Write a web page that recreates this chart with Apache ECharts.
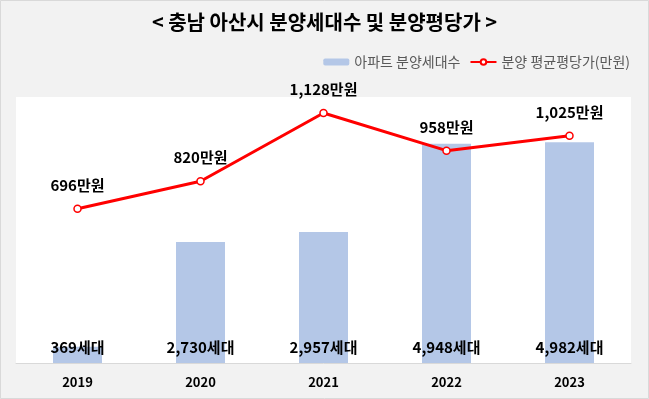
<!DOCTYPE html>
<html>
<head>
<meta charset="utf-8">
<script src="https://cdn.jsdelivr.net/npm/echarts@6/dist/echarts.min.js"></script>
<style>
  html, body { margin: 0; padding: 0; background: #F2F2F2; }
  #chart { width: 649px; height: 399px; }
</style>
</head>
<body>
<div id="chart"></div>
<script>
"use strict";

// 데이터
const years = ["2019", "2020", "2021", "2022", "2023"];
const households = [369, 2730, 2957, 4948, 4982];   // 아파트 분양세대수
const avgPrice = [696, 820, 1128, 958, 1025];       // 분양 평균평당가(만원)

const FONT = "'Noto Sans CJK KR', 'Noto Sans', sans-serif";

const chart = echarts.init(document.getElementById("chart"), null, { renderer: "canvas" });

const fmt = n => n.toLocaleString("en-US");

chart.setOption({
  backgroundColor: "#F2F2F2",
  animation: false,
  textStyle: { fontFamily: FONT },
  title: {
    text: "< 충남 아산시 분양세대수 및 분양평당가 >",
    left: "center",
    top: 12,
    padding: 0,
    textStyle: { fontSize: 20, fontWeight: "bold", color: "#000", fontFamily: FONT }
  },
  graphic: [{
    type: "rect",
    shape: { x: 0.5, y: 0.5, width: 648, height: 398 },
    style: { fill: "none", stroke: "#D9D9D9", lineWidth: 1 },
    silent: true
  }],
  legend: {
    right: 14,
    top: 50,
    itemGap: 9,
    itemWidth: 26,
    itemHeight: 7,
    textStyle: { fontSize: 14, color: "#595959", fontFamily: FONT },
    data: ["아파트 분양세대수", "분양 평균평당가(만원)"]
  },
  grid: {
    show: true,
    backgroundColor: "#FFFFFF",
    borderWidth: 0,
    left: 16, top: 97, width: 615, height: 266
  },
  xAxis: {
    type: "category",
    data: years,
    axisLine: { lineStyle: { color: "#D9D9D9", width: 1 } },
    axisTick: { show: false },
    axisLabel: { margin: 13, fontSize: 13, fontWeight: "bold", color: "#000", fontFamily: FONT }
  },
  yAxis: [
    { type: "value", min: 0, max: 6000, show: false, splitLine: { show: false } },
    { type: "value", min: 0, max: 1200, show: false, splitLine: { show: false } }
  ],
  series: [
    {
      name: "아파트 분양세대수",
      type: "bar",
      yAxisIndex: 0,
      barWidth: 49,
      data: households,
      itemStyle: { color: "#B4C7E7" },
      label: {
        show: true,
        position: "insideBottom",
        distance: 8,
        formatter: p => fmt(p.value) + "세대",
        fontSize: 15, fontWeight: "bold", color: "#000", fontFamily: FONT
      }
    },
    {
      name: "분양 평균평당가(만원)",
      type: "line",
      yAxisIndex: 1,
      data: avgPrice,
      symbol: "circle",
      symbolSize: 7,
      lineStyle: { color: "#FF0000", width: 3 },
      itemStyle: { color: "#FFFFFF", borderColor: "#FF0000", borderWidth: 1.5 },
      label: {
        show: true,
        position: "top",
        distance: 12,
        formatter: p => fmt(p.value) + "만원",
        fontSize: 15, fontWeight: "bold", color: "#000", fontFamily: FONT
      },
      z: 5
    }
  ]
});
</script>
</body>
</html>
